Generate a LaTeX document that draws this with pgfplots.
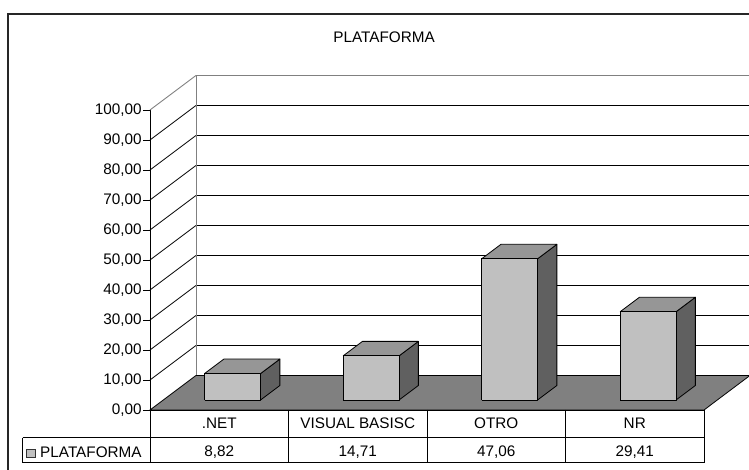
\documentclass[border=0pt]{standalone}
\usepackage{pgfplots}
\pgfplotsset{compat=1.18}
\usepackage{pgfplotstable}
\usepackage{fontspec}
\setmainfont{Liberation Sans}
\definecolor{barfront}{HTML}{C0C0C0}
\definecolor{bartop}{HTML}{969696}
\definecolor{barside}{HTML}{606060}
\definecolor{floorc}{HTML}{808080}
\definecolor{wallgray}{HTML}{808080}
\pgfplotstableread{
idx value
0 8.82
1 14.71
2 47.06
3 29.41
}\datatable
% depth vector in axis units, bar half width, depth fractions
\def\dx{0.332}
\def\dy{11.5}
\def\bw{0.202}
\def\fa{0.29}
\def\fb{0.71}
\begin{document}
\begin{tikzpicture}[font=\fontsize{15.3}{18}\selectfont]
\useasboundingbox (-150pt,-60pt) rectangle (599pt,410pt);
\clip (-150pt,-60pt) rectangle (599pt,410pt);
\draw[line width=1.6pt, black!85] (-142pt,-100pt) rectangle (700pt,396pt);
\begin{axis}[
  at={(0pt,0pt)}, anchor=south west,
  width=554pt, height=300pt, scale only axis,
  xmin=0, xmax=4, ymin=0, ymax=100,
  clip=false,
  axis x line*=bottom, axis y line*=left,
  axis line style={black, line width=0.9pt},
  ytick={0,10,...,100},
  tick align=outside,
  major tick length=7pt,
  ytick style={black, line width=0.9pt},
  yticklabel={\pgfmathprintnumber[fixed,fixed zerofill,precision=2,use comma,assume math mode=true]{\tick}},
  yticklabel style={inner xsep=1.2pt, font=\fontsize{15.3}{18}\selectfont},
  xtick={0.5,1.5,2.5,3.5},
  xticklabels={.NET,VISUAL BASISC,OTRO,NR},
  xtick style={draw=none},
  xticklabel style={anchor=base, yshift=-12pt, font=\fontsize{15.3}{18}\selectfont},
  no markers,
]
% back wall gridlines and side wall diagonals
\pgfplotsinvokeforeach{10,20,30,40,50,60,70,80,90}{
  \draw[black, line width=0.8pt] (axis cs:0,#1) -- (axis cs:0.332,{#1+11.5}) -- (axis cs:4.6,{#1+11.5});
}
\draw[wallgray, line width=0.9pt] (axis cs:0,100) -- (axis cs:0.332,111.5) -- (axis cs:4.6,111.5);
\draw[wallgray, line width=0.9pt] (axis cs:0.332,11.5) -- (axis cs:0.332,111.5);
% floor
\filldraw[fill=floorc, draw=black, line width=0.8pt] (axis cs:0,0) -- (axis cs:0.332,11.5) -- (axis cs:4.332,11.5) -- (axis cs:4,0) -- cycle;
% bars
\pgfplotsinvokeforeach{0,1,2,3}{
  \pgfplotstablegetelem{#1}{value}\of\datatable
  \pgfmathsetmacro\v{\pgfplotsretval}
  \pgfmathsetmacro\xl{#1+0.5-\bw+\fa*\dx}
  \pgfmathsetmacro\xr{#1+0.5+\bw+\fa*\dx}
  \pgfmathsetmacro\xlb{#1+0.5-\bw+\fb*\dx}
  \pgfmathsetmacro\xrb{#1+0.5+\bw+\fb*\dx}
  \pgfmathsetmacro\yb{\fa*\dy}
  \pgfmathsetmacro\yt{\v+\fa*\dy}
  \pgfmathsetmacro\ybb{\fb*\dy}
  \pgfmathsetmacro\ytb{\v+\fb*\dy}
  \edef\cmd{%
   \noexpand\addplot[fill=barside,draw=black,line width=0.8pt,line join=round] coordinates {(\xr,\yb) (\xrb,\ybb) (\xrb,\ytb) (\xr,\yt) (\xr,\yb)};
   \noexpand\addplot[fill=bartop,draw=black,line width=0.8pt,line join=round] coordinates {(\xl,\yt) (\xr,\yt) (\xrb,\ytb) (\xlb,\ytb) (\xl,\yt)};
   \noexpand\addplot[fill=barfront,draw=black,line width=0.8pt,line join=round] coordinates {(\xl,\yb) (\xr,\yb) (\xr,\yt) (\xl,\yt) (\xl,\yb)};
  }\cmd
}
% data table
\pgfplotsinvokeforeach{0,1,2,3,4}{
  \draw[black, line width=0.8pt] (axis cs:#1,0) -- (axis cs:#1,-17.57);
}
\draw[black, line width=0.8pt] (axis cs:-0.92,-9.23) -- (axis cs:4,-9.23);
\draw[black, line width=0.8pt] (axis cs:-0.92,-17.57) -- (axis cs:4,-17.57);
\draw[black, line width=0.8pt] (axis cs:-0.92,-9.23) -- (axis cs:-0.92,-17.57);
\filldraw[fill=barfront, draw=black!80, line width=0.8pt] (axis cs:-0.889,-13.1) rectangle (axis cs:-0.827,-15.77);
\node[anchor=base west, inner sep=0pt] at (axis cs:-0.794,-15.77) {PLATAFORMA};
\pgfplotsinvokeforeach{0,1,2,3}{
  \node[anchor=base, inner sep=0pt] at (axis cs:{#1+0.5},-15.6) {\pgfplotstablegetelem{#1}{value}\of\datatable\pgfmathprintnumber[fixed,fixed zerofill,precision=2,use comma,assume math mode=true]{\pgfplotsretval}};
}
% title
\node[anchor=base, inner sep=0pt] at (axis cs:1.69,122.4) {PLATAFORMA};
\end{axis}
\end{tikzpicture}
\end{document}
